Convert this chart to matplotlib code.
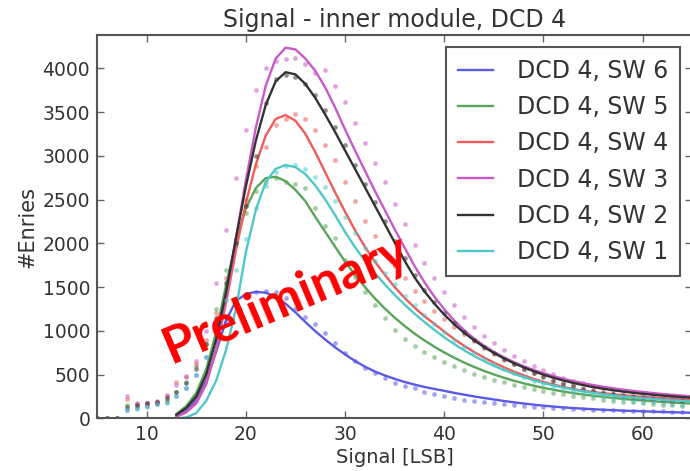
import numpy as np
import matplotlib
matplotlib.use("Agg")
import matplotlib.pyplot as plt

# Signal bins [LSB]
x_fit = np.arange(13, 66)
x_pts = np.arange(5, 66)

# Landau fit curves, one value per LSB from 13 to 65
fit_sw6 = [30, 90, 210, 430, 760, 1120, 1340, 1420, 1445, 1435, 1390, 1310, 1210, 1100,
           995, 900, 810, 730, 655, 590, 535, 490, 450, 415, 385, 358, 335, 314, 290, 270,
           250, 232, 215, 198, 183, 169, 156, 144, 134, 125, 117, 110, 104, 98, 93, 88,
           84, 80, 76, 72, 69, 66, 63]
fit_sw5 = [50, 140, 290, 560, 980, 1520, 2020, 2400, 2630, 2745, 2760, 2710, 2610, 2480,
           2300, 2130, 1960, 1790, 1640, 1500, 1370, 1255, 1150, 1055, 968, 890, 818, 752,
           692, 637, 587, 542, 501, 464, 430, 400, 373, 348, 326, 306, 288, 272, 258, 245,
           233, 222, 212, 203, 195, 187, 180, 174, 168]
fit_sw4 = [20, 70, 180, 400, 780, 1320, 1920, 2460, 2900, 3230, 3420, 3465, 3400, 3250,
           3040, 2810, 2580, 2360, 2150, 1960, 1790, 1640, 1500, 1375, 1265, 1165, 1080,
           990, 905, 828, 758, 694, 636, 583, 535, 491, 451, 416, 385, 358, 334, 313, 300,
           287, 275, 264, 254, 245, 237, 229, 222, 215, 209]
fit_sw3 = [20, 70, 170, 390, 790, 1380, 2060, 2720, 3320, 3800, 4110, 4235, 4215, 4110,
           3970, 3780, 3550, 3300, 3060, 2830, 2600, 2380, 2160, 1950, 1740, 1555, 1390,
           1245, 1118, 1008, 912, 830, 760, 698, 643, 595, 553, 515, 482, 452, 425, 401,
           380, 361, 344, 328, 314, 301, 289, 278, 268, 259, 250]
fit_sw2 = [40, 120, 250, 500, 900, 1440, 2060, 2650, 3170, 3580, 3850, 3955, 3930, 3820,
           3660, 3470, 3270, 3060, 2850, 2640, 2430, 2220, 2010, 1800, 1610, 1450, 1310,
           1185, 1075, 978, 892, 815, 746, 685, 630, 582, 538, 498, 463, 432, 404, 379,
           357, 338, 321, 306, 292, 280, 269, 259, 250, 242, 234]
fit_sw1 = [0, 10, 60, 200, 430, 780, 1250, 1900, 2380, 2700, 2850, 2895, 2870, 2790,
           2660, 2500, 2320, 2130, 1955, 1800, 1660, 1530, 1410, 1300, 1195, 1100, 1010,
           925, 848, 777, 712, 653, 600, 552, 509, 470, 435, 403, 375, 350, 328, 308, 291,
           276, 262, 250, 239, 229, 220, 212, 205, 198, 192]

# Measured histogram entries, one value per LSB from 5 to 65
pts_sw6 = [0, 0, 0, 100, 120, 140, 160, 190,
           260, 350, 500, 700, 900, 1100, 1300, 1400, 1440, 1450, 1447, 1380, 1250, 1160,
           1080, 975, 860, 750, 650, 570, 514, 460, 400, 365, 343, 300, 275, 252, 232, 214,
           198, 184, 171, 160, 150, 141, 133, 126, 120, 114, 109, 104, 100, 96, 92, 89,
           86, 83, 80, 78, 76, 74, 72]
pts_sw5 = [0, 0, 0, 150, 140, 160, 180, 210,
           300, 420, 600, 850, 1250, 1700, 2050, 2350, 2600, 2700, 2750, 2700, 2680,
           2630, 2400, 2200, 2060, 1810, 1620, 1440, 1290, 1150, 1010, 910, 830, 760, 700,
           645, 595, 550, 510, 475, 440, 410, 382, 356, 332, 310, 290, 272, 256, 241, 227,
           214, 202, 191, 181, 172, 164, 157, 150, 144, 138]
pts_sw4 = [0, 0, 0, 220, 160, 170, 190, 250,
           420, 480, 620, 900, 1200, 1600, 2050, 2500, 2880, 3100, 3350, 3420, 3480, 3420,
           3300, 3120, 2950, 2700, 2480, 2250, 2080, 1900, 1740, 1600, 1460, 1340, 1230,
           1130, 1040, 960, 880, 800, 730, 670, 615, 565, 520, 480, 440, 405, 375, 348,
           323, 300, 280, 263, 248, 234, 222, 212, 203, 195, 188]
pts_sw3 = [0, 0, 0, 250, 170, 180, 200, 270,
           380, 470, 650, 1000, 1550, 2150, 2750, 3300, 3750, 4000, 4080, 4100, 4120, 4050,
           3950, 3980, 3800, 3620, 3380, 3150, 2920, 2700, 2450, 2220, 1980, 1780, 1600,
           1440, 1290, 1160, 1040, 940, 860, 780, 715, 655, 600, 550, 505, 465, 430, 400,
           372, 348, 325, 305, 287, 270, 255, 242, 230, 218, 208]
pts_sw2 = [0, 0, 0, 130, 150, 170, 190, 230,
           300, 400, 560, 850, 1150, 1550, 2000, 2430, 3000, 3600, 3880, 3920, 3900, 3820,
           3700, 3520, 3330, 3120, 2900, 2680, 2470, 2250, 2030, 1830, 1640, 1470, 1330,
           1200, 1090, 990, 900, 820, 750, 680, 620, 565, 515, 470, 430, 395, 365, 338,
           314, 293, 275, 259, 245, 232, 221, 211, 202, 194, 186]
pts_sw1 = [0, 0, 0, 90, 110, 130, 160, 180,
           250, 350, 500, 700, 1000, 1350, 1700, 2050, 2400, 2650, 2820, 2880, 2900, 2850,
           2760, 2640, 2480, 2300, 2120, 1950, 1800, 1660, 1530, 1400, 1290, 1180, 1080,
           990, 900, 820, 745, 680, 620, 565, 515, 470, 430, 395, 362, 333, 307, 284, 264,
           246, 230, 216, 203, 191, 181, 172, 164, 157, 150]

labels = ["DCD 4, SW 6", "DCD 4, SW 5", "DCD 4, SW 4",
          "DCD 4, SW 3", "DCD 4, SW 2", "DCD 4, SW 1"]
fits = [fit_sw6, fit_sw5, fit_sw4, fit_sw3, fit_sw2, fit_sw1]
points = [pts_sw6, pts_sw5, pts_sw4, pts_sw3, pts_sw2, pts_sw1]
colors = ["#5a5ae6", "#5aa55a", "#f05a5a", "#c85ac8", "#333333", "#50c8c8"]

text_col = "#333333"
plt.rcParams["font.family"] = ["DejaVu Sans"]

fig = plt.figure(figsize=(6.9, 4.71), dpi=100)
ax = fig.add_axes([0.1407, 0.1119, 0.8626, 0.8138])

for fit, pts, lab, col in zip(fits, points, labels, colors):
    ax.plot(x_pts, pts, ls="none", marker="o", ms=3.4, mew=0, color=col, alpha=0.55)
    ax.plot(x_fit, fit, color=col, lw=1.7, label=lab)

ax.set_xlim(5, 65)
ax.set_ylim(0, 4380)
ax.set_xticks([10, 20, 30, 40, 50, 60])
ax.set_yticks(np.arange(0, 4001, 500))
ax.tick_params(direction="in", top=True, right=True, length=5, width=1,
               labelsize=13.5, colors="#666666", labelcolor=text_col, pad=5)
for s in ax.spines.values():
    s.set_color("#555555")
    s.set_linewidth(1.5)

ax.set_title("Signal - inner module, DCD 4", fontsize=17, color=text_col, pad=6)
ax.set_xlabel("Signal [LSB]", fontsize=14, color=text_col, labelpad=3)
ax.set_ylabel("#Enries", fontsize=15, color=text_col, labelpad=4)

leg = fig.legend(loc="upper left", bbox_to_anchor=(446 / 690, 1 - 47 / 471),
                 bbox_transform=fig.transFigure, borderaxespad=0, fontsize=17,
                 labelspacing=0.52, handlelength=1.5, handletextpad=1.0, borderpad=0.5,
                 fancybox=False, framealpha=1)
leg.get_frame().set_edgecolor("#555555")
leg.get_frame().set_linewidth(1.5)
for t in leg.get_texts():
    t.set_color(text_col)

fig.text(286 / 690, 1 - 299 / 471, "Preliminary", color="#ff0000", fontsize=37,
         fontweight="bold", family=["Lato", "DejaVu Sans"], rotation=23,
         ha="center", va="center", rotation_mode="anchor")

fig.savefig("out.png", dpi=100)
